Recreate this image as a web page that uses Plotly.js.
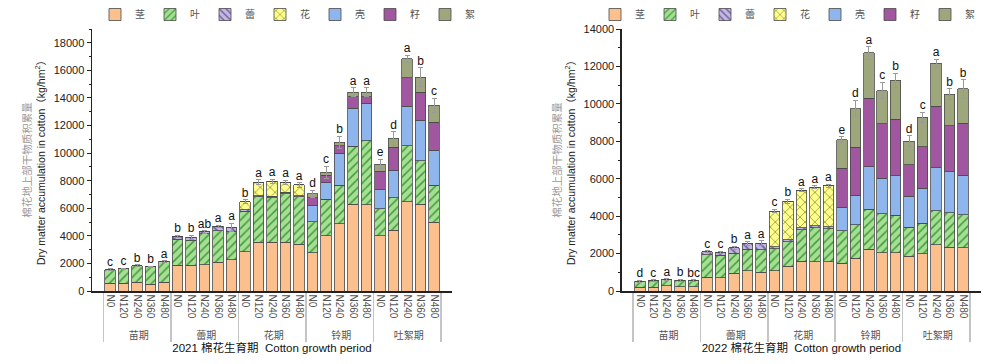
<!DOCTYPE html>
<html>
<head>
<meta charset="utf-8">
<script src="https://cdn.plot.ly/plotly-3.0.1.min.js"></script>
<style>html,body{margin:0;padding:0;background:#fff;}#chart{width:1000px;height:364px;}</style>
</head>
<body>
<div id="chart"></div>
<script>
// ---- categories ----
const stages = ['苗期', '蕾期', '花期', '铃期', '吐絮期'];
const nRates = ['N0', 'N120', 'N240', 'N360', 'N480'];
const parts = ['茎', '叶', '蕾', '花', '壳', '籽', '絮'];

// ---- 2021 values (kg/hm2), 25 bars: stage x N rate ----
const stem2021   = [550,570,640,500,640, 1850,1850,1920,2080,2270, 2860,3550,3550,3550,3390, 2790,4000,4880,6300,6250, 4010,4420,6480,6300,4970];
const leaf2021   = [1000,1030,1190,1250,1510, 1900,1840,2230,2290,2010, 2930,3270,3210,3500,3430, 2250,2650,2790,4190,4630, 1940,2340,4050,3160,2700];
const bud2021    = [0,0,0,0,0, 200,210,130,320,320, 100,100,100,100,100, 0,0,0,0,0, 0,0,0,0,0];
const flower2021 = [0,0,0,0,0, 0,0,0,0,0, 570,980,1090,730,770, 0,0,0,0,0, 0,0,0,0,0];
const shell2021  = [0,0,0,0,0, 0,0,0,0,0, 0,0,0,0,0, 1140,1200,2330,2770,2750, 1380,1960,2870,2910,2520];
const seed2021   = [0,0,0,0,0, 0,0,0,0,0, 0,0,0,0,0, 580,550,530,830,450, 1370,1700,2060,2060,2060];
const lint2021   = [0,0,0,0,0, 0,0,0,0,0, 0,0,0,0,0, 300,200,260,340,350, 500,640,1370,1070,1220];
const err2021    = [60,60,60,60,60, 100,150,80,80,300, 150,150,150,150,150, 250,450,450,300,300, 350,500,250,700,500];
const sig2021    = ['c','c','b','b','a', 'b','b','ab','a','a', 'b','a','a','a','a', 'd','c','b','a','a', 'e','d','a','b','c'];

// ---- 2022 values ----
const stem2022   = [200,200,270,230,230, 730,700,950,1070,1000, 1070,1330,1580,1550,1550, 1470,1750,2220,2050,2050, 1850,2000,2470,2330,2300];
const leaf2022   = [330,350,340,350,330, 1220,1200,1080,1160,1200, 1200,1300,1690,1830,1780, 1750,1800,2160,2080,2000, 1570,1630,1830,1850,1780];
const bud2022    = [0,0,0,0,0, 150,170,290,290,360, 100,100,100,100,100, 0,0,0,0,0, 0,0,0,0,0];
const flower2022 = [0,0,0,0,0, 0,0,0,0,0, 1900,2070,2010,2070,2200, 0,0,0,0,0, 0,0,0,0,0];
const shell2022  = [0,0,0,0,0, 0,0,0,0,0, 0,0,0,0,0, 1250,1580,2260,1900,2100, 1630,1870,2280,2200,2100];
const seed2022   = [0,0,0,0,0, 0,0,0,0,0, 0,0,0,0,0, 2080,2550,3660,2920,3020, 1700,2220,3300,2450,2790];
const lint2022   = [0,0,0,0,0, 0,0,0,0,0, 0,0,0,0,0, 1530,2070,2420,1760,2100, 1250,1560,2290,1690,1830];
const err2022    = [50,50,50,50,50, 60,60,80,100,120, 100,100,80,80,80, 150,450,330,450,370, 300,270,220,280,500];
const sig2022    = ['d','c','a','b','bc', 'c','c','b','a','a', 'c','b','a','a','a', 'e','d','a','c','b', 'd','c','a','b','b'];

// ---- styling per component ----
const styles = [
  {color:'#FCC08E'},
  {color:'#A6DE92', pattern:{shape:'/', fgcolor:'#3F9A3F', bgcolor:'#A6DE92', size:6, solidity:0.25}},
  {color:'#C4B7E2', pattern:{shape:'\\', fgcolor:'#6E5FA0', bgcolor:'#C4B7E2', size:6, solidity:0.3}},
  {color:'#FFFF8C', pattern:{shape:'x', fgcolor:'#A5A545', bgcolor:'#FFFF8C', size:7, solidity:0.25}},
  {color:'#8EB5EC'},
  {color:'#A0579F'},
  {color:'#9EA67C'}
];

const xCat = [[], []];
stages.forEach(s => nRates.forEach(n => { xCat[0].push(s); xCat[1].push(n); }));

const font = 'Liberation Sans, Arial, "Noto Sans CJK SC", sans-serif';
const traces = [];

function addPanel(series, err, sig, xa, ya, leg) {
  series.forEach((vals, i) => {
    const t = {
      type:'bar', name: parts[i], x: xCat, y: vals,
      xaxis: xa, yaxis: ya, legend: leg,
      marker: {color: styles[i].color, line:{color:'#4a4a4a', width:0.8}},
      hoverinfo:'skip'
    };
    if (styles[i].pattern) t.marker.pattern = styles[i].pattern;
    if (i === series.length - 1) {
      t.error_y = {type:'data', array: err, visible:true, color:'#9a9a9a', thickness:1, width:2.5};
    }
    traces.push(t);
  });
  const totals = series[0].map((_, k) => series.reduce((a, s) => a + s[k], 0));
  traces.push({
    type:'scatter', mode:'text', x: xCat, y: totals.map((v, k) => v + err[k]),
    text: sig, textposition:'top center', cliponaxis:false,
    textfont:{size:12, color:'#111', family: font},
    xaxis: xa, yaxis: ya, showlegend:false, hoverinfo:'skip'
  });
}

addPanel([stem2021, leaf2021, bud2021, flower2021, shell2021, seed2021, lint2021], err2021, sig2021, 'x', 'y', 'legend');
addPanel([stem2022, leaf2022, bud2022, flower2022, shell2022, seed2022, lint2022], err2022, sig2022, 'x2', 'y2', 'legend2');

const yTitle = '<span style="color:#9a9a9a">棉花地上部干物质积累量</span><br>Dry matter accumulation in cotton（kg/hm<sup>2</sup>）';

function xAxis(domain, anchor, title) {
  return {
    domain: domain, anchor: anchor, type:'multicategory',
    tickmode:'linear', tick0:0, dtick:1,
    showline:true, linecolor:'#222', linewidth:1.5, mirror:false,
    ticks:'', tickangle:90, tickfont:{size:10, color:'#555', family:font},
    showdividers:true, dividercolor:'#c4c4c4', dividerwidth:1.5,
    title:{text:title, font:{size:11.5, color:'#111', family:font}, standoff:4},
    showgrid:false, zeroline:false
  };
}
function yAxis(range, anchor) {
  return {
    anchor: anchor, range: range, domain:[0,1],
    showline:true, linecolor:'#222', linewidth:1.5,
    ticks:'outside', ticklen:4, tickcolor:'#222', dtick:2000, tickformat:'d',
    minor:{ticks:'outside', ticklen:2, dtick:1000, tickcolor:'#222'},
    tickfont:{size:11, color:'#222', family:font},
    showgrid:false, zeroline:false,
    title:{text:yTitle, font:{size:10.5, color:'#222', family:font}, standoff:6}
  };
}

const legendBase = {
  xref:'container', yref:'container', y:1, xanchor:'left', yanchor:'top', orientation:'h',
  font:{size:10, color:'#555', family:font}, bgcolor:'rgba(0,0,0,0)',
  itemwidth:30, traceorder:'normal', tracegroupgap:0
};

const layout = {
  width:1000, height:364,
  margin:{l:92, r:19, t:11, b:73},
  paper_bgcolor:'#fff', plot_bgcolor:'#fff',
  font:{family:font},
  barmode:'stack', bargap:0.22,
  xaxis: xAxis([0, 0.405], 'y', '2021 棉花生育期  Cotton growth period'),
  yaxis: yAxis([0, 19000], 'x'),
  xaxis2: xAxis([0.596, 1], 'y2', '2022 棉花生育期  Cotton growth period'),
  yaxis2: yAxis([0, 14000], 'x2'),
  legend: Object.assign({}, legendBase, {x:0.095}),
  legend2: Object.assign({}, legendBase, {x:0.595}),
  showlegend:true
};

Plotly.newPlot('chart', traces, layout, {displayModeBar:false, staticPlot:true});
</script>
</body>
</html>
